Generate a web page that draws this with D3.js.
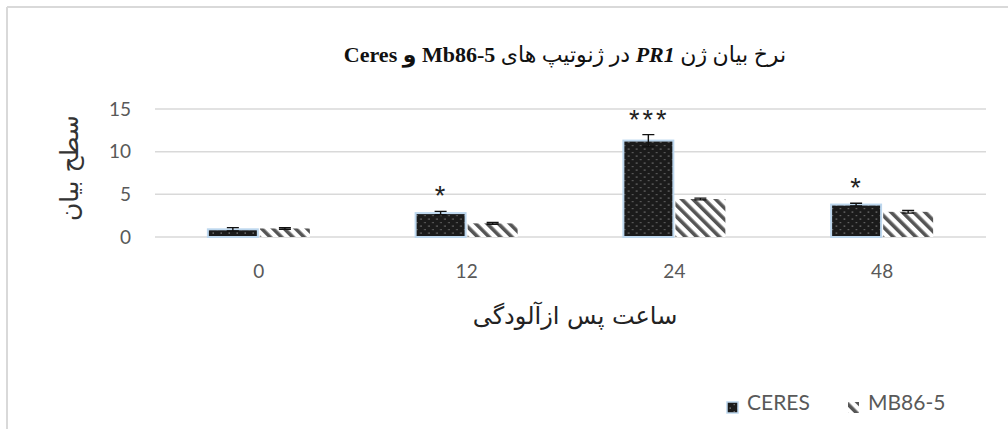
<!DOCTYPE html>
<html><head><meta charset="utf-8">
<script src="https://cdn.jsdelivr.net/npm/d3@7"></script>
<style>body{margin:0;background:#fff}svg{display:block}</style>
</head><body>
<svg id="c" width="1008" height="429"></svg>
<script>
const categories = ["0", "12", "24", "48"];
const seriesNames = ["CERES", "MB86-5"];
const ceresValues = [0.9, 2.8, 11.3, 3.8];
const ceresErrors = [0.2, 0.2, 0.7, 0.15];
const mbValues = [1.0, 1.6, 4.45, 2.95];
const mbErrors = [0.1, 0.1, 0.1, 0.15];
const ceresSignif = ["", "*", "***", "*"];
const yTicks = [0, 5, 10, 15];
const titleParts = [
  {t:"نرخ بیان ژن ", b:false, i:false},
  {t:"PR1", b:true, i:true},
  {t:"  در ژنوتیپ های  ", b:false, i:false},
  {t:"Mb86-5", b:true, i:false},
  {t:" و ", b:true, i:false},
  {t:"Ceres", b:true, i:false}
];
const yTitle = "سطح بیان";
const xTitle = "ساعت پس ازآلودگی";

const svg = d3.select("#c");
const defs = svg.append("defs");
const dots = defs.append("pattern").attr("id","dots").attr("patternUnits","userSpaceOnUse").attr("width",8).attr("height",7);
dots.append("rect").attr("width",8).attr("height",7).attr("fill","#1b1b1b");
dots.append("rect").attr("x",1.5).attr("y",1.5).attr("width",1.5).attr("height",1.2).attr("fill","#808080");
dots.append("rect").attr("x",5.5).attr("y",5).attr("width",1.5).attr("height",1.2).attr("fill","#6a6a6a");
const hatch = defs.append("pattern").attr("id","hatch").attr("patternUnits","userSpaceOnUse").attr("width",8).attr("height",8).attr("patternTransform","rotate(-45)");
hatch.append("rect").attr("width",8).attr("height",8).attr("fill","#fff");
hatch.append("rect").attr("x",0).attr("width",3.6).attr("height",8).attr("fill","#555");

// frame
svg.append("line").attr("x1",7).attr("x2",1008).attr("y1",7).attr("y2",7).attr("stroke","#d9d9d9").attr("stroke-width",2);
svg.append("line").attr("x1",7).attr("x2",7).attr("y1",7).attr("y2",429).attr("stroke","#d9d9d9").attr("stroke-width",2);

const x0 = d3.scaleBand().domain(categories).range([155, 986]);
const bw = x0.bandwidth();
const x1 = d3.scaleBand().domain(seriesNames).range([bw/2 - 51, bw/2 + 51]).paddingInner(0.04);
const y = d3.scaleLinear().domain([0, 15]).range([237, 109]);

// gridlines
svg.append("g").selectAll("line").data(yTicks).join("line")
  .attr("x1",155).attr("x2",986).attr("y1",d=>y(d)).attr("y2",d=>y(d))
  .attr("stroke","#d9d9d9").attr("stroke-width",1.5);

// y axis labels
const yAxis = d3.axisLeft(y).tickValues(yTicks).tickSize(0).tickPadding(0);
const ga = svg.append("g").attr("transform","translate(131,0)").call(yAxis);
ga.select(".domain").remove();
ga.selectAll("text").attr("font-family","Lato, 'Open Sans', sans-serif").attr("font-size",19).attr("fill","#595959");

// x axis labels
const xAxis = d3.axisBottom(x0).tickSize(0).tickPadding(0);
const gx = svg.append("g").attr("transform","translate(0,264)").call(xAxis);
gx.select(".domain").remove();
gx.selectAll("text").attr("font-family","Lato, 'Open Sans', sans-serif").attr("font-size",19).attr("fill","#595959");

const data = categories.map((c,i)=>({c, vals:[
  {s:seriesNames[0], v:ceresValues[i], e:ceresErrors[i], sig:ceresSignif[i]},
  {s:seriesNames[1], v:mbValues[i], e:mbErrors[i], sig:""}
]}));

const groups = svg.append("g").selectAll("g").data(data).join("g")
  .attr("transform",d=>`translate(${x0(d.c)},0)`);
groups.selectAll("rect").data(d=>d.vals).join("rect")
  .attr("x",d=>x1(d.s)).attr("width",x1.bandwidth())
  .attr("y",d=>y(d.v)).attr("height",d=>y(0)-y(d.v))
  .attr("fill",d=>d.s===seriesNames[0]?"url(#dots)":"url(#hatch)")
  .attr("stroke",d=>d.s===seriesNames[0]?"#bdd7ee":"none").attr("stroke-width",2);

// error bars
groups.selectAll("path.err").data(d=>d.vals).join("path").attr("class","err")
  .attr("d",d=>{const cx=x1(d.s)+x1.bandwidth()/2, t=y(d.v+d.e), b=y(d.v-d.e);
    return `M${cx-6},${t}H${cx+6}M${cx},${t}V${b}M${cx-6},${b}H${cx+6}`;})
  .attr("stroke","#111").attr("stroke-width",1.4).attr("fill","none");

// significance
groups.selectAll("text.sig").data(d=>d.vals.filter(v=>v.sig)).join("text").attr("class","sig")
  .attr("x",d=>x1(d.s)+x1.bandwidth()/2+1).attr("y",d=>y(d.v+d.e)-6)
  .attr("text-anchor","middle").attr("font-family","'Liberation Sans', sans-serif").attr("font-size",27)
  .attr("letter-spacing",3).attr("fill","#222").text(d=>d.sig);

// title
const tt = svg.append("text").attr("x",565).attr("y",62).attr("direction","rtl").attr("text-anchor","middle")
  .attr("font-family","'Liberation Serif', 'DejaVu Sans', serif").attr("font-size",22).attr("fill","#111");
titleParts.forEach(p=>{
  tt.append("tspan").attr("font-weight",p.b?"bold":"normal").attr("font-style",p.i?"italic":"normal").text(p.t);
});

// y title
svg.append("text").attr("transform","translate(78,168) rotate(-90)").attr("direction","rtl").attr("text-anchor","middle")
  .attr("font-family","'DejaVu Sans', sans-serif").attr("font-size",25).attr("fill","#333").text(yTitle);

// x title
svg.append("text").attr("x",575).attr("y",324).attr("direction","rtl").attr("text-anchor","middle")
  .attr("font-family","'DejaVu Sans', sans-serif").attr("font-size",24).attr("fill","#222").text(xTitle);

// legend
const lg = svg.append("g");
const legItems = [{s:seriesNames[0], x:727, fill:"url(#dots)", stroke:"#bdd7ee"},{s:seriesNames[1], x:848, fill:"url(#hatch)", stroke:"none"}];
lg.selectAll("rect").data(legItems).join("rect").attr("x",d=>d.x).attr("y",402).attr("width",11).attr("height",11)
  .attr("fill",d=>d.fill).attr("stroke",d=>d.stroke).attr("stroke-width",1.5);
lg.selectAll("text").data(legItems).join("text").attr("x",d=>d.x+20).attr("y",410)
  .attr("font-family","Lato, 'Open Sans', sans-serif").attr("font-size",21).attr("fill","#595959").text(d=>d.s);
</script>
</body></html>
